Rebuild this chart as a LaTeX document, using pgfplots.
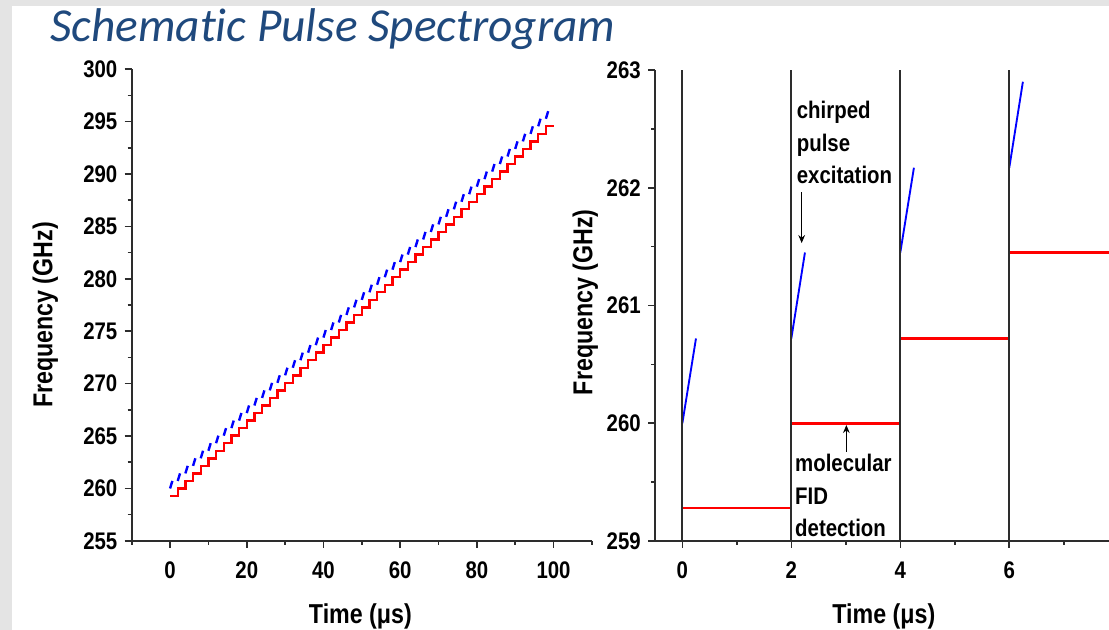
\documentclass[border=0pt]{standalone}
\usepackage{pgfplots}
\pgfplotsset{compat=1.18}
\usepackage{fontspec}
\setmainfont{Liberation Sans}
\newfontfamily\narrowfont[FakeStretch=0.85]{Liberation Sans}
\newfontfamily\titlefont[Ligatures={NoCommon}]{Carlito}
\usetikzlibrary{arrows.meta}
\definecolor{bggray}{RGB}{228,228,228}
\definecolor{titleblue}{RGB}{31,73,125}
\definecolor{axgray}{RGB}{45,45,45}
\newcommand{\lblfont}{\narrowfont\fontsize{18}{21}\selectfont\bfseries}
\newcommand{\axlblfont}{\narrowfont\fontsize{20.5}{24}\selectfont\bfseries}
\pgfplotsset{
  myaxis/.style={
    scale only axis,
    axis x line*=bottom, axis y line*=left,
    axis line style={-, line width=1.4pt, color=axgray},
    tick align=outside,
    major tick length=5.25pt, minor tick length=3pt,
    every tick/.style={line width=1.2pt, color=axgray},
    tick label style={font=\lblfont},
    xticklabel style={yshift=-7pt},
    yticklabel style={xshift=-2pt},
    /pgf/number format/assume math mode=true,
    label style={font=\axlblfont},
    clip=true,
    unbounded coords=jump,
  }
}
\begin{document}
\begin{tikzpicture}
\useasboundingbox (0,0) rectangle (831.75pt,472.5pt);
\clip (0,0) rectangle (831.75pt,472.5pt);
\fill[bggray] (0,0) rectangle (831.75pt,472.5pt);
\fill[white] (9pt,0) rectangle (831.75pt,468pt);
\node[anchor=base west, inner sep=0pt, text=titleblue, font=\titlefont\itshape\fontsize{35.5}{40}\selectfont] at (37.5pt,441pt) {Schematic Pulse Spectrogram};

% Left axis
\begin{axis}[myaxis,
  at={(98.78pt,66.83pt)}, anchor=south west,
  width=345.15pt, height=353.7pt,
  xmin=-10, xmax=110, ymin=255, ymax=300,
  xtick={0,20,40,60,80,100}, minor xtick={-10,10,30,50,70,90,110},
  ytick={255,260,...,300}, minor ytick={257.5,262.5,...,297.5},
  xlabel={Time (μs)}, ylabel={Frequency (GHz)},
  xlabel style={at={(rel axis cs:0.497,-0.16)}, anchor=center},
  ylabel style={at={(rel axis cs:-0.188,0.479)}, anchor=center, rotate=0},
]
\addplot[red, line width=1.8pt, const plot, mark=none] coordinates {
(0,259.28) (2,260.00) (4,260.72) (6,261.44) (8,262.16) (10,262.88) (12,263.60) (14,264.32) (16,265.04) (18,265.76)
(20,266.48) (22,267.20) (24,267.92) (26,268.64) (28,269.36) (30,270.08) (32,270.80) (34,271.52) (36,272.24) (38,272.96)
(40,273.68) (42,274.40) (44,275.12) (46,275.84) (48,276.56) (50,277.28) (52,278.00) (54,278.72) (56,279.44) (58,280.16)
(60,280.88) (62,281.60) (64,282.32) (66,283.04) (68,283.76) (70,284.48) (72,285.20) (74,285.92) (76,286.64) (78,287.36)
(80,288.08) (82,288.80) (84,289.52) (86,290.24) (88,290.96) (90,291.68) (92,292.40) (94,293.12) (96,293.84) (98,294.56)
(100,294.56)
};
\addplot[blue, line width=1.8pt, mark=none] coordinates {
(0,260.00) (0.6,260.72) (1,nan)
(2,260.72) (2.6,261.44) (3,nan)
(4,261.44) (4.6,262.16) (5,nan)
(6,262.16) (6.6,262.88) (7,nan)
(8,262.88) (8.6,263.60) (9,nan)
(10,263.60) (10.6,264.32) (11,nan)
(12,264.32) (12.6,265.04) (13,nan)
(14,265.04) (14.6,265.76) (15,nan)
(16,265.76) (16.6,266.48) (17,nan)
(18,266.48) (18.6,267.20) (19,nan)
(20,267.20) (20.6,267.92) (21,nan)
(22,267.92) (22.6,268.64) (23,nan)
(24,268.64) (24.6,269.36) (25,nan)
(26,269.36) (26.6,270.08) (27,nan)
(28,270.08) (28.6,270.80) (29,nan)
(30,270.80) (30.6,271.52) (31,nan)
(32,271.52) (32.6,272.24) (33,nan)
(34,272.24) (34.6,272.96) (35,nan)
(36,272.96) (36.6,273.68) (37,nan)
(38,273.68) (38.6,274.40) (39,nan)
(40,274.40) (40.6,275.12) (41,nan)
(42,275.12) (42.6,275.84) (43,nan)
(44,275.84) (44.6,276.56) (45,nan)
(46,276.56) (46.6,277.28) (47,nan)
(48,277.28) (48.6,278.00) (49,nan)
(50,278.00) (50.6,278.72) (51,nan)
(52,278.72) (52.6,279.44) (53,nan)
(54,279.44) (54.6,280.16) (55,nan)
(56,280.16) (56.6,280.88) (57,nan)
(58,280.88) (58.6,281.60) (59,nan)
(60,281.60) (60.6,282.32) (61,nan)
(62,282.32) (62.6,283.04) (63,nan)
(64,283.04) (64.6,283.76) (65,nan)
(66,283.76) (66.6,284.48) (67,nan)
(68,284.48) (68.6,285.20) (69,nan)
(70,285.20) (70.6,285.92) (71,nan)
(72,285.92) (72.6,286.64) (73,nan)
(74,286.64) (74.6,287.36) (75,nan)
(76,287.36) (76.6,288.08) (77,nan)
(78,288.08) (78.6,288.80) (79,nan)
(80,288.80) (80.6,289.52) (81,nan)
(82,289.52) (82.6,290.24) (83,nan)
(84,290.24) (84.6,290.96) (85,nan)
(86,290.96) (86.6,291.68) (87,nan)
(88,291.68) (88.6,292.40) (89,nan)
(90,292.40) (90.6,293.12) (91,nan)
(92,293.12) (92.6,293.84) (93,nan)
(94,293.84) (94.6,294.56) (95,nan)
(96,294.56) (96.6,295.28) (97,nan)
(98,295.28) (98.6,296.00)
};
\end{axis}

% Right axis
\begin{axis}[myaxis,
  at={(491.33pt,66.75pt)}, anchor=south west,
  width=340.4pt, height=353.25pt,
  xmin=-0.5, xmax=7.83, ymin=259, ymax=263,
  xtick={0,2,4,6}, minor xtick={1,3,5,7},
  ytick={259,260,261,262,263}, minor ytick={259.5,260.5,261.5,262.5},
  xlabel={Time (μs)}, ylabel={Frequency (GHz)},
  xlabel style={at={(rel axis cs:0.504,-0.16)}, anchor=center},
  ylabel style={at={(rel axis cs:-0.154,0.507)}, anchor=center, rotate=0},
]
\addplot[red, line width=2pt, mark=none] coordinates {
(0,259.28) (2,259.28) (2.5,nan)
(2,260.00) (4,260.00) (4.5,nan)
(4,260.72) (6,260.72) (6.5,nan)
(6,261.45) (8,261.45)
};
\addplot[blue, line width=1.4pt, mark=none] coordinates {
(0,260.00) (0.25,260.72) (1,nan)
(2,260.72) (2.25,261.45) (3,nan)
(4,261.45) (4.25,262.17) (5,nan)
(6,262.17) (6.25,262.90)
};
\addplot[axgray, line width=1.4pt, mark=none] coordinates {
(0,259) (0,263) (1,nan)
(2,259) (2,263) (3,nan)
(4,259) (4,263) (5,nan)
(6,259) (6,263)
};
\node[anchor=base west, inner sep=0pt, font=\lblfont] at (axis cs:2.097,262.592) {chirped};
\node[anchor=base west, inner sep=0pt, font=\lblfont] at (axis cs:2.097,262.306) {pulse};
\node[anchor=base west, inner sep=0pt, font=\lblfont] at (axis cs:2.097,262.038) {excitation};
\node[anchor=base west, inner sep=0pt, font=\lblfont] at (axis cs:2.066,259.589) {molecular};
\node[anchor=base west, inner sep=0pt, font=\lblfont] at (axis cs:2.066,259.314) {FID};
\node[anchor=base west, inner sep=0pt, font=\lblfont] at (axis cs:2.066,259.037) {detection};
\draw[-{Stealth[length=6pt,width=5pt]}, line width=1pt, black] (axis cs:2.19,261.96) -- (axis cs:2.19,261.53);
\draw[-{Stealth[length=6pt,width=5pt]}, line width=1pt, black] (axis cs:3.01,259.76) -- (axis cs:3.01,259.985);
\end{axis}
\end{tikzpicture}
\end{document}
